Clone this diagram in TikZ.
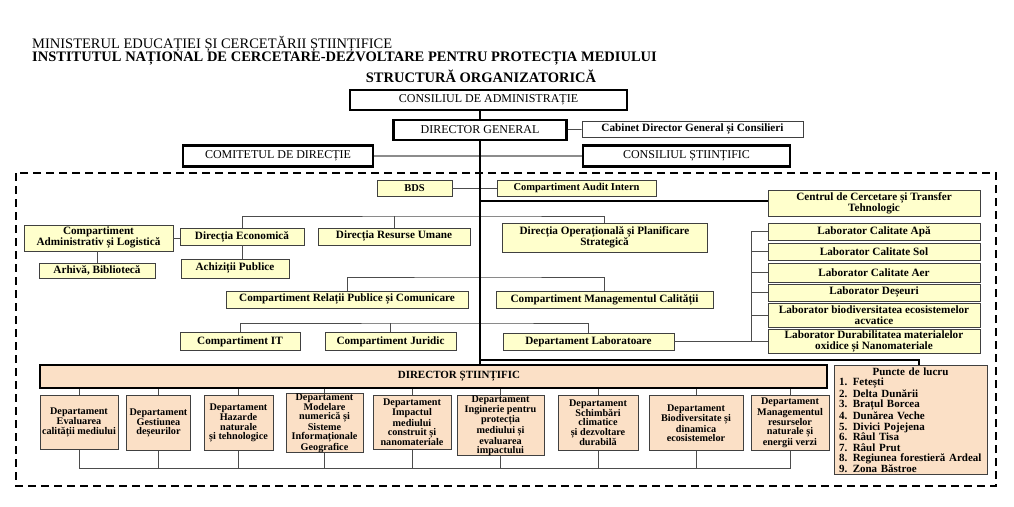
\documentclass[tikz,border=0pt]{standalone}
\usepackage{fontspec}
\setmainfont{Liberation Serif}
\definecolor{boxyellow}{RGB}{255,255,204}
\definecolor{boxpeach}{RGB}{251,224,198}

\begin{document}
\begin{tikzpicture}[x=1pt, y=-1pt,
  bigbox/.style={draw, rectangle, line width=2.6pt, fill=white, inner sep=0pt, font=\fontsize{12}{14}\selectfont},
  ybox/.style={draw=black!75, rectangle, line width=0.8pt, fill=boxyellow, inner sep=0pt, align=center, font=\bfseries\fontsize{11.2}{11}\selectfont},
  pbox/.style={draw=black!75, rectangle, line width=0.8pt, fill=boxpeach, inner sep=0pt, align=center, font=\bfseries\fontsize{10.2}{9.2}\selectfont},
  conn/.style={draw=black!70, line width=0.8pt},
  trunk/.style={draw=black, line width=2.2pt}]
  \useasboundingbox (0,0) rectangle (1014,506);

  % header
  \node[anchor=base west, inner sep=0pt, font=\fontsize{14.5}{16}\selectfont] (minister) at (32,48) {MINISTERUL EDUCAȚIEI ȘI CERCETĂRII ȘTIINȚIFICE};
  \node[anchor=base west, inner sep=0pt, font=\bfseries\fontsize{14.5}{16}\selectfont] (institut) at (32,61.5) {INSTITUTUL NAȚIONAL DE CERCETARE-DEZVOLTARE PENTRU PROTECȚIA MEDIULUI};
  \node[anchor=base, inner sep=0pt, font=\bfseries\fontsize{14.5}{16}\selectfont] (titlu) at (481,82) {STRUCTURĂ ORGANIZATORICĂ};

  % dashed frame
  \draw[line width=2pt, dash pattern=on 8pt off 5pt] (16,173) rectangle (996,486);

  % top level
  \node[bigbox, minimum width=277pt, minimum height=20pt] (ca) at (488.5,100) {CONSILIUL DE ADMINISTRAȚIE};
  \node[bigbox, minimum width=173pt, minimum height=20pt] (dg) at (480,130) {DIRECTOR GENERAL};
  \node[ybox, fill=white, minimum width=221pt, minimum height=16pt] (cab) at (692.5,129) {Cabinet Director General și Consilieri};
  \node[bigbox, minimum width=190pt, minimum height=21pt] (cd) at (278,156) {COMITETUL DE DIRECȚIE};
  \node[bigbox, minimum width=207pt, minimum height=21pt] (cs) at (686.5,156) {CONSILIUL ȘTIINȚIFIC};

  % inside the frame
  \node[ybox, font=\bfseries\fontsize{10.5}{11}\selectfont, minimum width=75pt, minimum height=16pt] (bds) at (414.5,188) {BDS};
  \node[ybox, font=\bfseries\fontsize{10.5}{11}\selectfont, minimum width=159pt, minimum height=16pt] (audit) at (576.5,188) {Compartiment Audit Intern};
  \node[ybox, minimum width=212pt, minimum height=26pt] (centru) at (874,203) {Centrul de Cercetare și Transfer\\Tehnologic};

  \node[ybox, minimum width=149pt, minimum height=26pt] (admin) at (98.5,238) {Compartiment\\Administrativ și Logistică};
  \node[ybox, minimum width=124pt, minimum height=17pt] (direc) at (242,236.5) {Direcția Economică};
  \node[ybox, minimum width=152pt, minimum height=17pt] (resurse) at (394,236.5) {Direcția Resurse Umane};
  \node[ybox, minimum width=205pt, minimum height=29pt] (dirop) at (604.5,237.5) {Direcția Operațională și Planificare\\Strategică};
  \node[ybox, minimum width=116pt, minimum height=15pt] (arhiva) at (97,270.5) {Arhivă, Bibliotecă};
  \node[ybox, minimum width=108pt, minimum height=19pt] (achiz) at (235,268.5) {Achiziții Publice};

  \node[ybox, minimum width=242pt, minimum height=17pt] (relatii) at (347,299.5) {Compartiment Relații Publice și Comunicare};
  \node[ybox, minimum width=217pt, minimum height=17pt] (calitate) at (604.5,299.5) {Compartiment Managementul Calității};
  \node[ybox, minimum width=120pt, minimum height=18pt] (compit) at (240,341.5) {Compartiment IT};
  \node[ybox, minimum width=131pt, minimum height=18pt] (juridic) at (390.5,341.5) {Compartiment Juridic};
  \node[ybox, minimum width=171pt, minimum height=17pt] (deplab) at (588.5,341.5) {Departament Laboratoare};

  % laboratories
  \node[ybox, minimum width=212pt, minimum height=17pt] (apa) at (874,231.5) {Laborator Calitate Apă};
  \node[ybox, minimum width=212pt, minimum height=17pt] (sol) at (874,251.5) {Laborator Calitate Sol};
  \node[ybox, minimum width=212pt, minimum height=19pt] (aer) at (874,272.5) {Laborator Calitate Aer};
  \node[ybox, minimum width=212pt, minimum height=17pt] (deseuri) at (874,292.5) {Laborator Deșeuri};
  \node[ybox, minimum width=212pt, minimum height=24pt] (biodiv) at (874,315) {Laborator biodiversitatea ecosistemelor\\acvatice};
  \node[ybox, minimum width=212pt, minimum height=24pt] (durab) at (874,341.5) {Laborator Durabilitatea materialelor\\oxidice și Nanomateriale};

  % scientific director and departments
  \node[bigbox, fill=boxpeach, font=\bfseries\fontsize{11}{12}\selectfont, minimum width=787pt, minimum height=23pt] (ds) at (433.5,376.5) {\hspace*{51pt}DIRECTOR ȘTIINȚIFIC};
  \node[pbox, anchor=north, minimum width=78pt, minimum height=54pt] (dep1) at (79,395) {Departament\\Evaluarea\\calității mediului};
  \node[pbox, anchor=north, minimum width=64pt, minimum height=55pt] (dep2) at (158.5,395) {Departament\\Gestiunea\\deșeurilor};
  \node[pbox, anchor=north, minimum width=69pt, minimum height=55pt] (dep3) at (238.5,395) {Departament\\Hazarde\\naturale\\și tehnologice};
  \node[pbox, anchor=north, minimum width=77pt, minimum height=55pt] (dep4) at (324.5,393) {Departament\\Modelare\\numerică și\\Sisteme\\Informaționale\\Geografice};
  \node[pbox, anchor=north, minimum width=78pt, minimum height=54pt] (dep5) at (412,395) {Departament\\Impactul\\mediului\\construit și\\nanomateriale};
  \node[pbox, anchor=north, minimum width=87pt, minimum height=55pt] (dep6) at (500.5,395) {Departament\\Inginerie pentru\\protecția\\mediului și\\evaluarea\\impactului};
  \node[pbox, anchor=north, minimum width=80pt, minimum height=55pt] (dep7) at (598,395) {Departament\\Schimbări\\climatice\\și dezvoltare\\durabilă};
  \node[pbox, anchor=north, minimum width=94pt, minimum height=55pt] (dep8) at (696,395) {Departament\\Biodiversitate și\\dinamica\\ecosistemelor};
  \node[pbox, anchor=north, minimum width=78pt, minimum height=55pt] (dep9) at (790,395) {Departament\\Managementul\\resurselor\\naturale și\\energii verzi};

  \node[pbox, font=\bfseries\fontsize{11}{10.5}\selectfont, minimum width=153pt, minimum height=109pt, text width=143pt, align=left] (pl) at (910.5,420) {\makebox[143pt]{Puncte de lucru}\\1. Fetești\\2. Delta Dunării\\3. Brațul Borcea\\4. Dunărea Veche\\5. Divici Pojejena\\6. Râul Tisa\\7. Râul Prut\\8. Regiunea forestieră Ardeal\\9. Zona Băstroe};

  % helper points
  \coordinate (bus1) at (480,216);
  \coordinate (bus2) at (480,277);
  \coordinate (bus3) at (480,323);
  \coordinate (lbr) at (751,0);
  \coordinate (bbus) at (0,468);
  \coordinate (knee) at (919,360);

  % thin connectors
  \draw[conn] (dg) -- (cab);
  \draw[conn, draw=black!45, line width=1.6pt] (cd) -- (cs);
  \draw[conn] (bds) -- (audit);
  \draw[conn] (direc.north) |- (bus1) -| (dirop.north);
  \draw[conn] (resurse.north) -- (resurse.north |- bus1);
  \draw[conn] (admin.east) -- (admin.east -| direc.west);
  \draw[conn] (admin.south -| arhiva.north) -- (arhiva.north);
  \draw[conn] (direc.south) -- (direc.south |- achiz.north);
  \draw[conn] (relatii.north) |- (bus2) -| (calitate.north);
  \draw[conn] (compit.north) |- (bus3) -| (deplab.north);
  \draw[conn] (juridic.north) -- (juridic.north |- bus3);
  \draw[conn] (deplab) -- (durab);
  \draw[conn] (apa.west) -- (apa.west -| lbr) -- (durab.west -| lbr);
  \draw[conn] (sol.west) -- (sol.west -| lbr);
  \draw[conn] (aer.west) -- (aer.west -| lbr);
  \draw[conn] (deseuri.west) -- (deseuri.west -| lbr);
  \draw[conn] (biodiv.west) -- (biodiv.west -| lbr);

  % departments to the bar and the bottom line
  \draw[conn] (dep1.north |- ds.south) -- (dep1.north);
  \draw[conn] (dep2.north |- ds.south) -- (dep2.north);
  \draw[conn] (dep3.north |- ds.south) -- (dep3.north);
  \draw[conn] (dep4.north |- ds.south) -- (dep4.north);
  \draw[conn] (dep5.north |- ds.south) -- (dep5.north);
  \draw[conn] (dep6.north |- ds.south) -- (dep6.north);
  \draw[conn] (dep7.north |- ds.south) -- (dep7.north);
  \draw[conn] (dep8.north |- ds.south) -- (dep8.north);
  \draw[conn] (dep9.north |- ds.south) -- (dep9.north);
  \draw[conn] (dep1.south) -- (dep1.south |- bbus) -- (dep9.south |- bbus) -- (dep9.south);
  \draw[conn] (dep2.south) -- (dep2.south |- bbus);
  \draw[conn] (dep3.south) -- (dep3.south |- bbus);
  \draw[conn] (dep4.south) -- (dep4.south |- bbus);
  \draw[conn] (dep5.south) -- (dep5.south |- bbus);
  \draw[conn] (dep6.south) -- (dep6.south |- bbus);
  \draw[conn] (dep7.south) -- (dep7.south |- bbus);
  \draw[conn] (dep8.south) -- (dep8.south |- bbus);

  % main line
  \draw[trunk] (ca.south -| dg.north) -- (dg.north);
  \draw[trunk] (dg.south) -- (dg.south |- ds.north);
  \draw[trunk] ([yshift=2pt]centru.west) -- ([yshift=2pt]centru.west -| dg.south);
  \draw[trunk] (dg.south |- knee) -- (knee) -- (knee |- pl.north);
\end{tikzpicture}
\end{document}
